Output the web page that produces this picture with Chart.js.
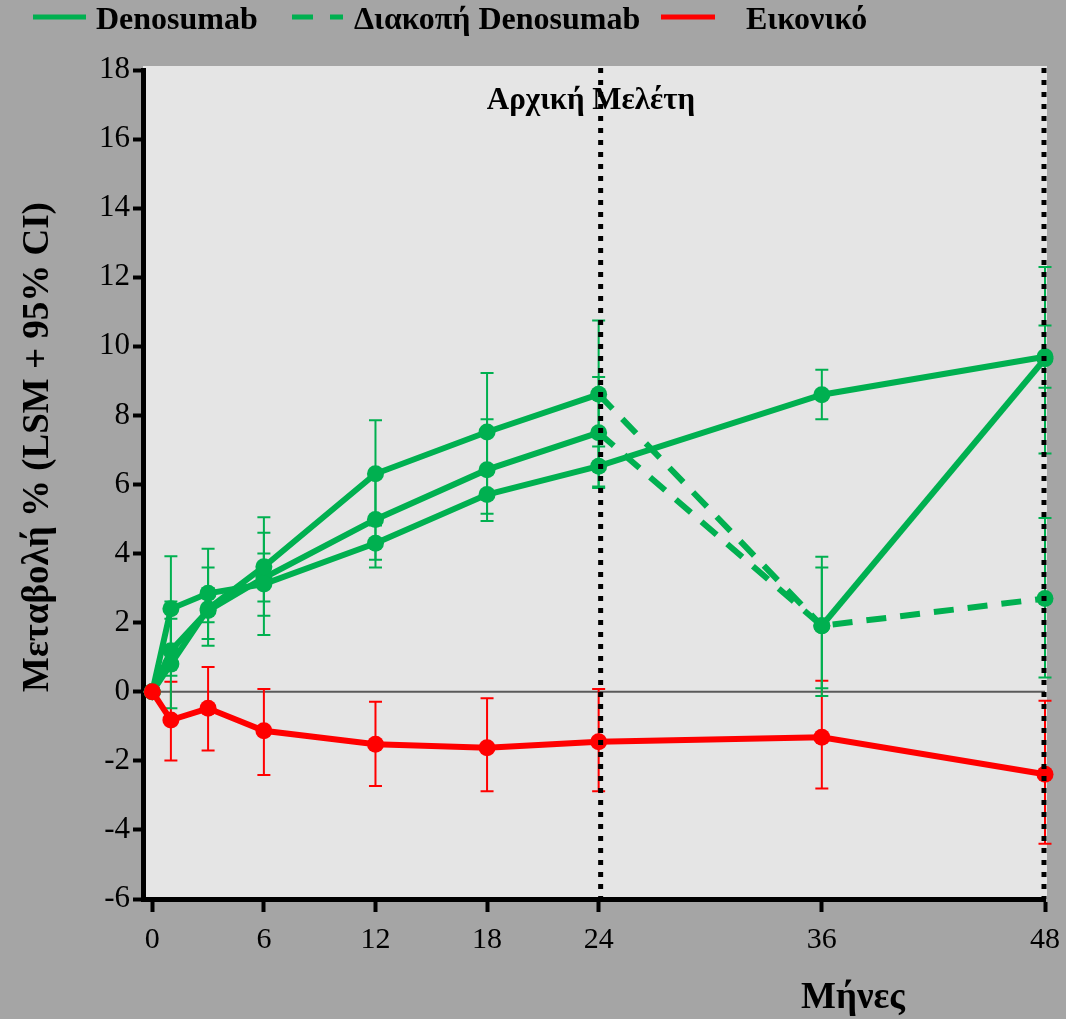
<!DOCTYPE html>
<html>
<head>
<meta charset="utf-8">
<script src="https://cdn.jsdelivr.net/npm/chart.js@4.4.1/dist/chart.umd.min.js"></script>
<style>
html,body{margin:0;padding:0;background:#a5a5a5;}
#wrap{width:1066px;height:1019px;}
</style>
</head>
<body>
<div id="wrap"><canvas id="c" width="1066" height="1019"></canvas></div>
<script>
// ---- data ----
const months = [0, 1, 3, 6, 12, 18, 24, 36, 48];
const xTickValues = [0, 6, 12, 18, 24, 36, 48];
const yTickMin = -6, yTickMax = 18, yTickStep = 2;

const placebo      = [0, -0.82, -0.48, -1.13, -1.52, -1.62, -1.45, -1.32, -2.39];
const placeboLow   = [null, -1.99, -1.70, -2.41, -2.73, -2.88, -2.88, -2.80, -4.40];
const placeboHigh  = [null, 0.29, 0.72, 0.08, -0.29, -0.19, 0.08, 0.32, -0.26];

const denoContinuous     = [0, 2.40, 2.85, 3.12, 4.30, 5.71, 6.53, 8.60, 9.70];
const denoContinuousLow  = [null, 0.88, 1.53, 1.64, 3.60, 5.15, 5.94, 7.89, 8.80];
const denoContinuousHigh = [null, 3.92, 4.14, 4.60, 5.00, 6.30, 7.10, 9.32, 10.60];

const denoRetreat     = [0, 0.80, 2.40, 3.62, 6.31, 7.52, 8.61, 1.91, 9.64];
const denoRetreatLow  = [null, -0.48, 1.33, 2.20, 4.81, 5.82, 6.50, -0.12, 6.90];
const denoRetreatHigh = [null, 2.11, 3.60, 5.05, 7.86, 9.23, 10.75, 3.91, 12.30];

const denoStop     = [0, 1.19, 2.35, 3.30, 4.99, 6.43, 7.50, 1.91, 2.70];
const denoStopLow  = [null, 0.46, 2.01, 2.61, 3.82, 4.94, 5.90, 0.10, 0.41];
const denoStopHigh = [null, 2.61, 3.00, 4.00, 6.20, 7.89, 9.11, 3.60, 5.03];

const legendLabels = ['Denosumab', 'Διακοπή Denosumab', 'Εικονικό'];
const yAxisTitle = 'Μεταβολή % (LSM + 95% CI)';
const xAxisTitle = 'Μήνες';
const annotationText = 'Αρχική Μελέτη';
const studyLines = [24, 48];

// ---- styles ----
const GREEN = '#00b050';
const RED = '#ff0000';
const SERIF = '"Liberation Serif", "Times New Roman", serif';

function pts(arr) { return months.map((m, i) => ({ x: m, y: arr[i] })); }

const errorSets = [
  { low: placeboLow, high: placeboHigh, color: RED },
  { low: denoContinuousLow, high: denoContinuousHigh, color: GREEN },
  { low: denoRetreatLow, high: denoRetreatHigh, color: GREEN },
  { low: denoStopLow, high: denoStopHigh, color: GREEN }
];

const bgPlugin = {
  id: 'bg',
  beforeDraw(chart) {
    const { ctx, chartArea: a } = chart;
    ctx.save();
    ctx.fillStyle = '#a5a5a5';
    ctx.fillRect(0, 0, chart.width, chart.height);
    ctx.fillStyle = '#e5e5e5';
    ctx.fillRect(a.left, a.top - 4, a.right - a.left + 2, a.bottom - a.top + 4);
    ctx.restore();
  }
};

const underPlugin = {
  id: 'under',
  beforeDatasetsDraw(chart) {
    const { ctx, chartArea: a, scales: { x, y } } = chart;
    ctx.save();
    ctx.strokeStyle = '#5a5a5a';
    ctx.lineWidth = 2;
    ctx.beginPath();
    const y0 = y.getPixelForValue(0);
    ctx.moveTo(a.left, y0);
    ctx.lineTo(x.getPixelForValue(48), y0);
    ctx.stroke();
    ctx.lineWidth = 2;
    errorSets.forEach(s => {
      ctx.strokeStyle = s.color;
      months.forEach((m, i) => {
        if (s.low[i] == null) return;
        const px = x.getPixelForValue(m);
        const pl = y.getPixelForValue(s.low[i]);
        const ph = y.getPixelForValue(s.high[i]);
        ctx.beginPath();
        ctx.moveTo(px, pl); ctx.lineTo(px, ph);
        ctx.moveTo(px - 6.5, pl); ctx.lineTo(px + 6.5, pl);
        ctx.moveTo(px - 6.5, ph); ctx.lineTo(px + 6.5, ph);
        ctx.stroke();
      });
    });
    ctx.restore();
  }
};

const overPlugin = {
  id: 'over',
  afterDatasetsDraw(chart) {
    const { ctx, chartArea: a, scales: { x } } = chart;
    ctx.save();
    ctx.strokeStyle = '#000';
    ctx.lineWidth = 5;
    ctx.setLineDash([5, 7]);
    studyLines.forEach((v, k) => {
      const px = x.getPixelForValue(v) + (k === 0 ? 2 : -1);
      ctx.beginPath();
      ctx.moveTo(px, a.top - 2);
      ctx.lineTo(px, a.bottom);
      ctx.stroke();
    });
    ctx.restore();
  },
  afterDraw(chart) {
    const { ctx } = chart;
    ctx.save();
    ctx.fillStyle = '#000';
    ctx.font = 'bold 31px ' + SERIF;
    ctx.textAlign = 'center';
    ctx.textBaseline = 'alphabetic';
    ctx.fillText(annotationText, 591, 109);
    ctx.font = 'bold 37px ' + SERIF;
    ctx.fillText(xAxisTitle, 853, 1008);
    ctx.save();
    ctx.translate(38, 447);
    ctx.rotate(-Math.PI / 2);
    ctx.textBaseline = 'middle';
    ctx.font = 'bold 37px ' + SERIF;
    ctx.fillText(yAxisTitle, 0, 0);
    ctx.restore();
    const ly = 17;
    ctx.lineWidth = 5;
    ctx.strokeStyle = GREEN;
    ctx.beginPath(); ctx.moveTo(33, ly); ctx.lineTo(86, ly); ctx.stroke();
    ctx.setLineDash([21, 17]);
    ctx.beginPath(); ctx.moveTo(292, ly); ctx.lineTo(343, ly); ctx.stroke();
    ctx.setLineDash([]);
    ctx.strokeStyle = RED;
    ctx.beginPath(); ctx.moveTo(661, ly); ctx.lineTo(715, ly); ctx.stroke();
    ctx.font = 'bold 32px ' + SERIF;
    ctx.textAlign = 'left';
    ctx.textBaseline = 'alphabetic';
    ctx.fillText(legendLabels[0], 96, 29);
    ctx.fillText(legendLabels[1], 354, 29);
    ctx.fillText(legendLabels[2], 746, 29);
    ctx.restore();
  }
};

const lineBase = { borderWidth: 6, pointRadius: 8.5, pointHoverRadius: 8.5, pointBorderWidth: 0, tension: 0, clip: false, fill: false };

new Chart(document.getElementById('c'), {
  type: 'line',
  data: {
    datasets: [
      Object.assign({ label: legendLabels[2], data: pts(placebo), borderColor: RED, backgroundColor: RED, pointBackgroundColor: RED }, lineBase),
      Object.assign({ label: legendLabels[0], data: pts(denoContinuous), borderColor: GREEN, backgroundColor: GREEN, pointBackgroundColor: GREEN }, lineBase),
      Object.assign({ label: legendLabels[1], data: pts(denoRetreat), borderColor: GREEN, backgroundColor: GREEN, pointBackgroundColor: GREEN,
        segment: { borderDash: c => (c.p0.parsed.x >= 24 && c.p1.parsed.x <= 36) ? [20, 14] : undefined } }, lineBase),
      Object.assign({ label: legendLabels[1], data: pts(denoStop), borderColor: GREEN, backgroundColor: GREEN, pointBackgroundColor: GREEN,
        segment: { borderDash: c => (c.p0.parsed.x >= 24) ? [20, 14] : undefined } }, lineBase)
    ]
  },
  options: {
    responsive: false,
    animation: false,
    events: [],
    layout: { padding: { top: 70, right: 21, left: 0, bottom: 0 } },
    plugins: { legend: { display: false }, tooltip: { enabled: false }, title: { display: false } },
    scales: {
      x: {
        type: 'linear', min: -0.5, max: 48,
        afterBuildTicks: s => { s.ticks = xTickValues.map(v => ({ value: v })); },
        afterFit: s => { s.height = 1019 - 899; s.paddingRight = 0; s.paddingLeft = 0; },
        ticks: { color: '#000', font: { family: SERIF, size: 30 }, padding: 10, maxRotation: 0, autoSkip: false },
        grid: { drawOnChartArea: false, tickLength: 13, tickWidth: 4, color: '#000' },
        border: { color: '#000', width: 5 }
      },
      y: {
        min: yTickMin, max: yTickMax,
        afterFit: s => { s.width = 143; s.paddingTop = 0; s.paddingBottom = 0; },
        ticks: { stepSize: yTickStep, color: '#000', font: { family: SERIF, size: 31 }, padding: 3 },
        grid: { drawOnChartArea: false, tickLength: 10, tickWidth: 4, color: '#000' },
        border: { color: '#000', width: 5 }
      }
    }
  },
  plugins: [bgPlugin, underPlugin, overPlugin]
});
</script>
</body>
</html>
